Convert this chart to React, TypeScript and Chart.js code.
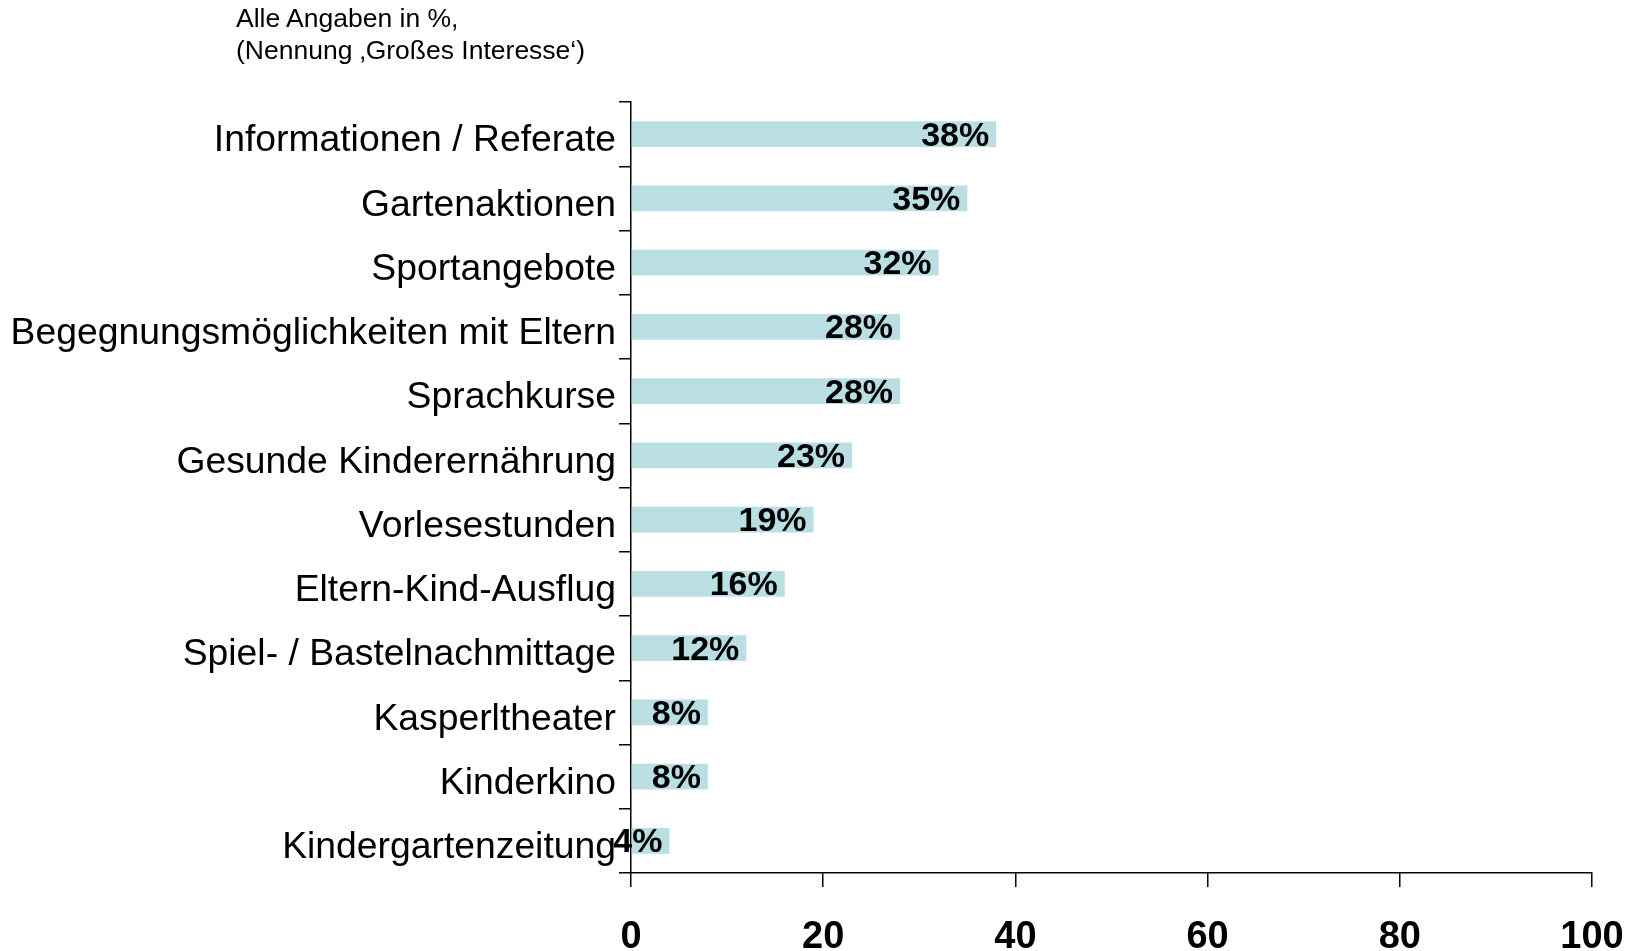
import React, { useEffect, useRef } from "react";
import { Chart, registerables } from "chart.js";

Chart.register(...registerables);

const categories = [
  "Informationen / Referate",
  "Gartenaktionen",
  "Sportangebote",
  "Begegnungsmöglichkeiten mit Eltern",
  "Sprachkurse",
  "Gesunde Kinderernährung",
  "Vorlesestunden",
  "Eltern-Kind-Ausflug",
  "Spiel- / Bastelnachmittage",
  "Kasperltheater",
  "Kinderkino",
  "Kindergartenzeitung",
];
const values = [38, 35, 32, 28, 28, 23, 19, 16, 12, 8, 8, 4];
const xTicks = [0, 20, 40, 60, 80, 100];
const noteLines = ["Alle Angaben in %,", "(Nennung \u201aGroßes Interesse\u2018)"];

const FONT = '"Liberation Sans", Arial, sans-serif';

const valueLabelPlugin = {
  id: "valueLabels",
  afterDatasetsDraw(chart: any) {
    const ctx = chart.ctx;
    const meta = chart.getDatasetMeta(0);
    ctx.save();
    ctx.font = `bold 34px ${FONT}`;
    ctx.fillStyle = "#000";
    ctx.textAlign = "right";
    ctx.textBaseline = "middle";
    meta.data.forEach((bar: any, i: number) => {
      ctx.fillText(`${values[i]}%`, bar.x - 7, bar.y + 2);
    });
    ctx.restore();
  },
};

export default function App() {
  const ref = useRef<HTMLCanvasElement>(null);
  useEffect(() => {
    if (!ref.current) return;
    const chart = new Chart(ref.current, {
      type: "bar",
      data: {
        labels: categories,
        datasets: [
          {
            data: values,
            backgroundColor: "#b9dfe3",
            borderWidth: 0,
            barPercentage: 0.4,
            categoryPercentage: 1,
          },
        ],
      },
      options: {
        indexAxis: "y",
        animation: false,
        responsive: false,
        layout: { padding: { top: 102, right: 51, left: 0, bottom: 0 } },
        plugins: { legend: { display: false }, tooltip: { enabled: false }, title: { display: false } },
        scales: {
          x: {
            min: 0,
            max: 100,
            afterBuildTicks: (scale: any) => {
              scale.ticks = xTicks.map((v) => ({ value: v }));
            },
            afterFit: (scale: any) => {
              scale.height = 78;
              scale.paddingLeft = 0;
              scale.paddingRight = 0;
            },
            border: { display: true, color: "#000", width: 1.5 },
            grid: { drawOnChartArea: false, drawTicks: true, tickLength: 14, color: "#000", lineWidth: 1.5 },
            ticks: {
              color: "#000",
              font: { family: FONT, size: 38, weight: "bold" },
              padding: 28,
              maxRotation: 0,
              autoSkip: false,
            },
          },
          y: {
            afterFit: (scale: any) => {
              scale.width = 631;
            },
            border: { display: true, color: "#000", width: 1.5 },
            grid: { offset: true, drawOnChartArea: false, drawTicks: true, tickLength: 12, color: "#000", lineWidth: 1.5 },
            ticks: {
              color: "#000",
              font: { family: FONT, size: 37.3 },
              padding: 3,
              labelOffset: 7,
              autoSkip: false,
            },
          },
        },
      },
      plugins: [valueLabelPlugin],
    } as any);
    return () => chart.destroy();
  }, []);

  return (
    <div style={{ position: "fixed", left: 0, top: 0, width: 1643, height: 951, background: "#fff" }}>
      <canvas ref={ref} width={1643} height={951} style={{ position: "absolute", left: 0, top: 0 }} />
      <div
        style={{
          position: "absolute",
          left: 236,
          top: 2,
          fontFamily: FONT,
          fontSize: 26.5,
          lineHeight: "32px",
          color: "#000",
        }}
      >
        {noteLines.map((l, i) => (
          <div key={i}>{l}</div>
        ))}
      </div>
    </div>
  );
}
